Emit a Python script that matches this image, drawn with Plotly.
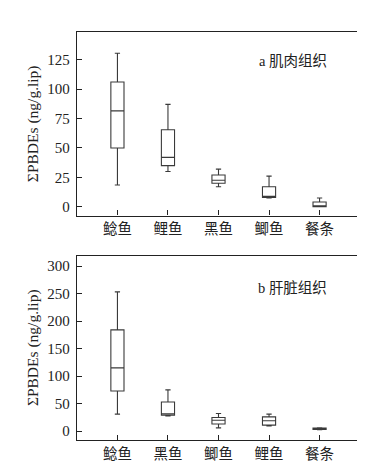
import plotly.graph_objects as go

# Panel a: muscle tissue
cats_a = ['鲶鱼', '鲤鱼', '黑鱼', '鲫鱼', '餐条']
low_a = [18.5, 30, 17, 7.5, 0]
q1_a = [50, 35, 20, 8, 0]
med_a = [81.5, 42, 22.5, 8.5, 0.5]
q3_a = [106, 65.5, 27, 17, 4]
up_a = [130.5, 87, 32, 26, 7.5]
ticks_a = [0, 25, 50, 75, 100, 125]

# Panel b: liver tissue
cats_b = ['鲶鱼', '黑鱼', '鲫鱼', '鲤鱼', '餐条']
low_b = [31, 27.5, 6, 9.5, 2.5]
q1_b = [73, 29, 13, 11, 3]
med_b = [115, 31.5, 20, 19, 4]
q3_b = [184, 53, 25, 26, 5.5]
up_b = [253, 75, 32, 31, 6]
ticks_b = [0, 50, 100, 150, 200, 250, 300]

LINE = '#3a3a3a'
SERIF = 'Liberation Serif'
CJK = 'Noto Sans CJK SC'

fig = go.Figure()
box_style = dict(fillcolor='white', line=dict(color=LINE, width=1.1),
                 width=0.26, whiskerwidth=0.4, showlegend=False, hoverinfo='skip')
fig.add_trace(go.Box(x=cats_a, q1=q1_a, median=med_a, q3=q3_a,
                     lowerfence=low_a, upperfence=up_a,
                     xaxis='x', yaxis='y', **box_style))
fig.add_trace(go.Box(x=cats_b, q1=q1_b, median=med_b, q3=q3_b,
                     lowerfence=low_b, upperfence=up_b,
                     xaxis='x2', yaxis='y2', **box_style))

axis_common = dict(showline=True, linecolor='#222', linewidth=1.3, mirror=True,
                   ticks='inside', ticklen=5, tickcolor='#222', tickwidth=1.2,
                   showgrid=False, zeroline=False)
ytitle = dict(text='ΣPBDEs (ng/g.lip)', font=dict(family=SERIF, size=15.5, color='#222'),
              standoff=4)

fig.update_layout(
    width=365, height=467,
    margin=dict(l=69, r=12, t=24, b=23),
    paper_bgcolor='white', plot_bgcolor='white',
    xaxis=dict(domain=[0, 1], anchor='y', type='category', range=[-0.8, 4.8],
               tickfont=dict(family=CJK, size=14.5, color='#222'), **axis_common),
    yaxis=dict(domain=[0.55, 1.0], anchor='x', range=[-7.5, 148.5],
               tickvals=ticks_a, tickfont=dict(family=SERIF, size=15, color='#222'),
               ticklabelstandoff=3, title=ytitle, **axis_common),
    xaxis2=dict(domain=[0, 1], anchor='y2', type='category', range=[-0.8, 4.8],
                tickfont=dict(family=CJK, size=14.5, color='#222'), **axis_common),
    yaxis2=dict(domain=[0, 0.452], anchor='x2', range=[-16, 319],
                tickvals=ticks_b, tickfont=dict(family=SERIF, size=15, color='#222'),
                ticklabelstandoff=3, title=ytitle, **axis_common),
    annotations=[
        dict(text='a <span style="font-family:Noto Sans CJK SC">肌肉组织</span>',
             xref='x domain', yref='y domain', x=0.89, y=0.85,
             xanchor='right', yanchor='middle', showarrow=False,
             font=dict(family=SERIF, size=14.5, color='#222')),
        dict(text='b <span style="font-family:Noto Sans CJK SC">肝脏组织</span>',
             xref='x2 domain', yref='y2 domain', x=0.89, y=0.83,
             xanchor='right', yanchor='middle', showarrow=False,
             font=dict(family=SERIF, size=14.5, color='#222')),
    ],
)

fig.write_html('out.html')
